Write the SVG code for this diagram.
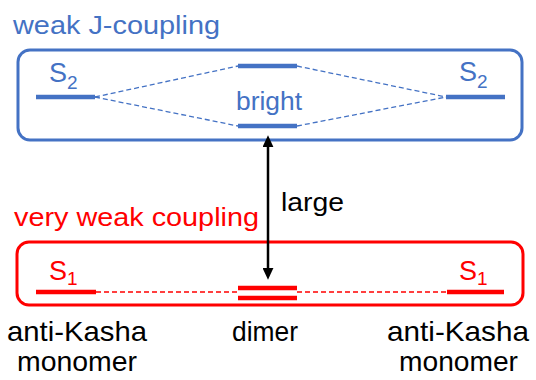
<svg xmlns="http://www.w3.org/2000/svg" width="536" height="380" viewBox="0 0 536 380">
<style>
text{font-family:"Liberation Sans",Arial,sans-serif}
.b{fill:#4472C4}
.r{fill:#FF0000}
.k{fill:#000}
.box{fill:none;stroke-width:3}
.lvB{stroke:#4472C4;stroke-width:4.5}
.lvR{stroke:#FF0000;stroke-width:4.5}
.dB{stroke:#4472C4;stroke-width:1.3;stroke-dasharray:5 3;fill:none}
.dR{stroke:#FF0000;stroke-width:1.3;stroke-dasharray:5 3;fill:none}
.big{font-size:27px}
.sub{font-size:19px}
.lab{font-size:28px}
</style>
<defs>
<marker id="ah" viewBox="0 0 10 10" refX="6" refY="5" markerWidth="4.8" markerHeight="4.4" preserveAspectRatio="none" orient="auto-start-reverse" markerUnits="strokeWidth"><path d="M0,0 L10,5 L0,10 z" fill="#000"/></marker>
</defs>
<g id="upper-box">
<rect class="box" x="18" y="50" width="504" height="90" rx="12" stroke="#4472C4"/>
<text class="b" x="13" y="34" font-size="25" textLength="207" lengthAdjust="spacingAndGlyphs">weak J-coupling</text>
</g>
<g id="lower-box">
<rect class="box" x="17" y="242" width="506" height="63" rx="12" stroke="#FF0000"/>
<text class="r" x="14" y="226" font-size="26" textLength="245" lengthAdjust="spacingAndGlyphs">very weak coupling</text>
</g>
<g id="connectors">
<line class="dB" x1="95" y1="97" x2="238" y2="66"/>
<line class="dB" x1="95" y1="97" x2="238" y2="126"/>
<line class="dB" x1="297" y1="66" x2="446" y2="97"/>
<line class="dB" x1="297" y1="126" x2="446" y2="97"/>
<line class="dR" x1="96" y1="292" x2="238" y2="292"/>
<line class="dR" x1="297" y1="292" x2="447" y2="292"/>
<line x1="268" y1="140" x2="268" y2="275" stroke="#000" stroke-width="2.5" marker-start="url(#ah)" marker-end="url(#ah)"/>
<text class="k" x="281" y="211" font-size="26" textLength="63" lengthAdjust="spacingAndGlyphs">large</text>
</g>
<g id="S2-left">
<line class="lvB" x1="36" y1="97" x2="95" y2="97"/>
<text class="b big" x="49" y="82">S</text><text class="b sub" x="67" y="89">2</text>
</g>
<g id="dimer-upper">
<line class="lvB" x1="238" y1="66" x2="297" y2="66"/>
</g>
<g id="dimer-bright">
<line class="lvB" x1="238" y1="126" x2="297" y2="126"/>
<text class="b" x="236" y="110" font-size="26" textLength="66" lengthAdjust="spacingAndGlyphs">bright</text>
</g>
<g id="S2-right">
<line class="lvB" x1="446" y1="97" x2="505" y2="97"/>
<text class="b big" x="459" y="81">S</text><text class="b sub" x="477" y="88">2</text>
</g>
<g id="S1-left">
<line class="lvR" x1="36" y1="292" x2="96" y2="292"/>
<text class="r big" x="49" y="280">S</text><text class="r sub" x="67" y="285">1</text>
<text class="k lab" x="7" y="341" textLength="140" lengthAdjust="spacingAndGlyphs">anti-Kasha</text>
<text class="k lab" x="17" y="371" textLength="120" lengthAdjust="spacingAndGlyphs">monomer</text>
</g>
<g id="dimer-S1">
<line class="lvR" x1="238" y1="288" x2="297" y2="288"/>
<line class="lvR" x1="238" y1="298" x2="297" y2="298"/>
<text class="k lab" x="232" y="341" textLength="66" lengthAdjust="spacingAndGlyphs">dimer</text>
</g>
<g id="S1-right">
<line class="lvR" x1="447" y1="292" x2="504" y2="292"/>
<text class="r big" x="459" y="280">S</text><text class="r sub" x="477" y="285">1</text>
<text class="k lab" x="387" y="341" textLength="142" lengthAdjust="spacingAndGlyphs">anti-Kasha</text>
<text class="k lab" x="399" y="371" textLength="119" lengthAdjust="spacingAndGlyphs">monomer</text>
</g>
</svg>
